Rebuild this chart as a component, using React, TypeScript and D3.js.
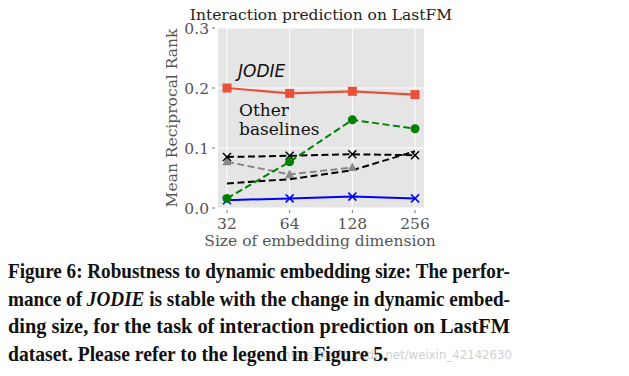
import React from "react";
import * as d3 from "d3";

const dims = [32, 64, 128, 256];
const yTicks = [0.0, 0.1, 0.2, 0.3];
const jodie = [0.2, 0.191, 0.1945, 0.189];
const greenBase = [0.016, 0.077, 0.147, 0.132];
const blackX = [0.085, 0.087, 0.0895, 0.088];
const grayTri = [0.077, 0.056, 0.0675];
const blackDash = [0.041, 0.048, 0.063, 0.0945];
const blueX = [0.013, 0.016, 0.019, 0.016];

const captionLines = [
  "Figure 6: Robustness to dynamic embedding size: The perfor-",
  "mance of |JODIE| is stable with the change in dynamic embed-",
  "ding size, for the task of interaction prediction on LastFM",
  "dataset. Please refer to the legend in Figure 5.",
];

const W = 629, H = 376;
const panel = { left: 218, right: 424, top: 28, bottom: 208 };

export default function App() {
  const x = d3.scaleLog().base(2).domain([32 / Math.pow(2, 0.143), 256 * Math.pow(2, 0.143)]).range([panel.left, panel.right]);
  const y = d3.scaleLinear().domain([0, 0.3]).range([panel.bottom, panel.top]);
  const line = d3.line<[number, number]>().x((d) => x(d[0])).y((d) => y(d[1]));
  const pts = (vals: number[]) => vals.map((v, i) => [dims[i], v] as [number, number]);

  const xMark = (cx: number, cy: number, color: string, key: string) => (
    <g key={key} stroke={color} strokeWidth={1.5}>
      <line x1={cx - 4} y1={cy - 4} x2={cx + 4} y2={cy + 4} />
      <line x1={cx - 4} y1={cy + 4} x2={cx + 4} y2={cy - 4} />
    </g>
  );

  const serif = "DejaVu Serif";
  const capFont = "Liberation Serif";
  const fs = 15.5;

  return (
    <svg width={W} height={H} style={{ position: "absolute", left: 0, top: 0 }}>
      <rect x={0} y={0} width={W} height={H} fill="#ffffff" />
      <text x={(190 + 452) / 2} y={19.5} textAnchor="middle" fontFamily={serif} fontSize={15.5} fill="#222">
        Interaction prediction on LastFM
      </text>
      <rect x={panel.left} y={panel.top} width={panel.right - panel.left} height={panel.bottom - panel.top} fill="#e5e5e5" />
      {yTicks.map((t) => (
        <g key={"yt" + t}>
          <line x1={panel.left} x2={panel.right} y1={y(t)} y2={y(t)} stroke="#fff" strokeWidth={1} />
          <line x1={panel.left - 6} x2={panel.left - 3} y1={y(t)} y2={y(t)} stroke="#777" strokeWidth={1} />
          <text x={panel.left - 9} y={y(t) + 5.5} textAnchor="end" fontFamily={serif} fontSize={fs} fill="#555">
            {t.toFixed(1)}
          </text>
        </g>
      ))}
      {dims.map((d) => (
        <g key={"xt" + d}>
          <line x1={x(d)} x2={x(d)} y1={panel.top} y2={panel.bottom} stroke="#fff" strokeWidth={1} />
          <line x1={x(d)} x2={x(d)} y1={panel.bottom + 2} y2={panel.bottom + 5} stroke="#777" strokeWidth={1} />
          <text x={x(d)} y={229} textAnchor="middle" fontFamily={serif} fontSize={fs} fill="#555">
            {d}
          </text>
        </g>
      ))}
      <text x={320} y={245.5} textAnchor="middle" fontFamily={serif} fontSize={fs} fill="#555">
        Size of embedding dimension
      </text>
      <text transform={`translate(177,${(panel.top + panel.bottom) / 2}) rotate(-90)`} textAnchor="middle" fontFamily={serif} fontSize={fs} fill="#555">
        Mean Reciprocal Rank
      </text>

      <path d={line(pts(blackDash)) || ""} fill="none" stroke="#000" strokeWidth={2} strokeDasharray="7,3.5" />
      <path d={line(pts(grayTri)) || ""} fill="none" stroke="#888" strokeWidth={2} strokeDasharray="7,3.5" />
      {pts(grayTri).map(([d, v], i) => {
        const cx = x(d), cy = y(v);
        return <path key={"tri" + i} d={`M${cx},${cy - 5}L${cx + 4.5},${cy + 3.5}L${cx - 4.5},${cy + 3.5}Z`} fill="#888" />;
      })}
      <path d={line(pts(blackX)) || ""} fill="none" stroke="#000" strokeWidth={2} strokeDasharray="7,3.5" />
      {pts(blackX).map(([d, v], i) => xMark(x(d), y(v), "#000", "bx" + i))}
      <path d={line(pts(blueX)) || ""} fill="none" stroke="#0000ff" strokeWidth={2} />
      {pts(blueX).map(([d, v], i) => xMark(x(d), y(v), "#0000ff", "ux" + i))}
      <path d={line(pts(greenBase)) || ""} fill="none" stroke="#008000" strokeWidth={2} strokeDasharray="7,3.5" />
      {pts(greenBase).map(([d, v], i) => (
        <circle key={"gc" + i} cx={x(d)} cy={y(v)} r={4.5} fill="#008000" />
      ))}
      <path d={line(pts(jodie)) || ""} fill="none" stroke="#e8513a" strokeWidth={2.2} />
      {pts(jodie).map(([d, v], i) => (
        <rect key={"js" + i} x={x(d) - 4.5} y={y(v) - 4.5} width={9} height={9} fill="#e8513a" />
      ))}

      <text x={238} y={77} fontFamily="DejaVu Sans" fontStyle="italic" fontSize={17} fill="#111">
        JODIE
      </text>
      <text x={239} y={116} fontFamily={serif} fontSize={17} fill="#111">
        Other
      </text>
      <text x={239} y={135} fontFamily={serif} fontSize={17} fill="#111">
        baselines
      </text>

      <text x={283} y={359} fontFamily="DejaVu Sans" fontSize={13} fill="#d0d0d0" textLength={229} lengthAdjust="spacingAndGlyphs">
        https://blog.csdn.net/weixin_42142630
      </text>
      {captionLines.map((ln, i) => {
        const parts = ln.split("|");
        const last = i === captionLines.length - 1;
        return (
          <text
            key={"cap" + i}
            x={8}
            y={278 + i * 27.6}
            fontFamily={capFont}
            fontWeight="bold"
            fontSize={21.5}
            fill="#111"
            textLength={last ? 380 : 502}
            lengthAdjust="spacingAndGlyphs"
          >
            {parts.map((p, j) => (
              <tspan key={j} fontStyle={j % 2 === 1 ? "italic" : "normal"}>
                {p}
              </tspan>
            ))}
          </text>
        );
      })}
    </svg>
  );
}
